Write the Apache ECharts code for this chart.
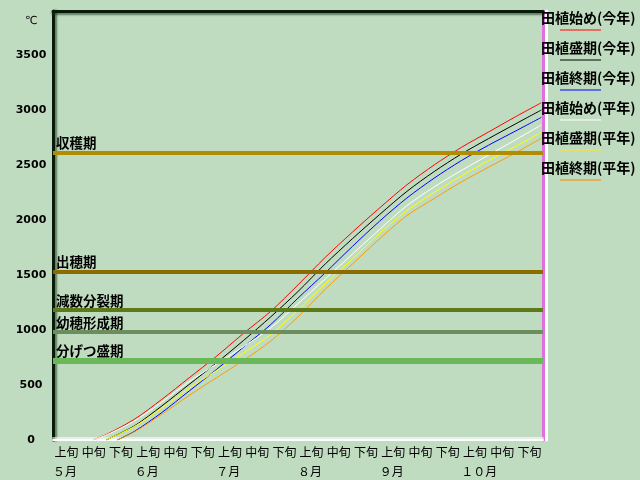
<!DOCTYPE html>
<html>
<head>
<meta charset="utf-8">
<script src="https://cdn.jsdelivr.net/npm/echarts@6/dist/echarts.min.js"></script>
<style>
  html, body { margin: 0; padding: 0; background: #c0dcc0; }
  #main { width: 640px; height: 480px; }
</style>
</head>
<body>
<div id="main"></div>
<script>
// x positions are in decades from May 1 (0 = 5月上旬 start, 18 = 10月下旬 end)
var decadeX = [2, 3, 4, 5, 6, 7, 8, 9, 10, 11, 12, 13, 14, 15, 16, 17, 17.94];

var seriesNames = ['田植始め(今年)', '田植盛期(今年)', '田植終期(今年)',
                   '田植始め(平年)', '田植盛期(平年)', '田植終期(平年)'];
var startX = [1.47, 1.95, 2.36, 1.47, 1.95, 2.36];

var startThisYear = [55, 190, 370, 565, 760, 970, 1170, 1410, 1660, 1890, 2110, 2320, 2500, 2660, 2800, 2940, 3066];
var midThisYear   = [5, 130, 310, 505, 700, 905, 1120, 1350, 1600, 1830, 2050, 2260, 2440, 2600, 2740, 2875, 3000];
var endThisYear   = [null, 80, 250, 445, 640, 845, 1050, 1290, 1520, 1760, 1990, 2200, 2380, 2540, 2680, 2810, 2933];
var startNormal   = [50, 175, 345, 530, 690, 850, 1020, 1240, 1465, 1690, 1915, 2130, 2300, 2450, 2590, 2730, 2864];
var midNormal     = [5, 125, 290, 470, 630, 790, 960, 1180, 1420, 1645, 1880, 2085, 2250, 2400, 2540, 2670, 2797];
var endNormal     = [null, 75, 235, 405, 565, 725, 900, 1120, 1370, 1600, 1830, 2040, 2195, 2345, 2480, 2612, 2743];
var seriesValues = [startThisYear, midThisYear, endThisYear, startNormal, midNormal, endNormal];

var lineColors   = ['#ff0000', '#000000', '#0000ff', '#ffffff', '#ffff00', '#ff9900'];
var legendColors = ['#e07060', '#607060', '#6070e0', '#e0ece0', '#e0e070', '#e0b060'];

// growth stages: accumulated temperature thresholds
var stageNames  = ['収穫期', '出穂期', '減数分裂期', '幼穂形成期', '分げつ盛期'];
var stageValues = [2610, 1530, 1180, 980, 720];
var stageColors = ['#b08c00', '#8b6c00', '#5c7a18', '#6c8e5c', '#6ab85a'];
var stageWidths = [4, 4, 4, 4, 6];

var decadeLabels = [];
for (var m = 0; m < 6; m++) {
  decadeLabels.push('上旬', '中旬', '下旬');
}
var monthLabels = ['５月', '６月', '７月', '８月', '９月', '１０月'];

var yTicks = [0, 500, 1000, 1500, 2000, 2500, 3000, 3500];

var FONT = 'Noto Sans CJK JP';

var chart = echarts.init(document.getElementById('main'));

var series = seriesNames.map(function (name, i) {
  var data = [[startX[i], 0]];
  decadeX.forEach(function (x, k) {
    if (seriesValues[i][k] != null && x > startX[i]) data.push([x, seriesValues[i][k]]);
  });
  return {
    name: name,
    type: 'line',
    xAxisIndex: 0,
    yAxisIndex: 0,
    data: data,
    symbol: 'none',
    smooth: 0.3,
    color: lineColors[i],
    lineStyle: { color: lineColors[i], width: 1 },
    z: 3
  };
});

series.push({
  name: 'stages',
  type: 'line',
  data: [],
  xAxisIndex: 0,
  yAxisIndex: 0,
  z: 4,
  markLine: {
    silent: true,
    symbol: ['none', 'none'],
    animation: false,
    data: stageNames.map(function (n, i) {
      return {
        yAxis: stageValues[i],
        name: n,
        lineStyle: { color: stageColors[i], width: stageWidths[i], type: 'solid' },
        label: {
          show: true,
          formatter: n,
          position: 'insideStartTop',
          distance: [3, 3],
          color: '#000',
          fontSize: 13.5,
          fontWeight: 'bold',
          fontFamily: FONT
        }
      };
    })
  }
});

var rich = {
  t: { fontSize: 14, fontWeight: 'bold', color: '#000', fontFamily: FONT, lineHeight: 16 },
  s: { width: 19, height: 2, lineHeight: 8 }
};
legendColors.forEach(function (c, i) {
  rich['c' + i] = { width: 41, height: 2, lineHeight: 8, backgroundColor: c };
});

var option = {
  backgroundColor: '#c0dcc0',
  animation: false,
  textStyle: { fontFamily: FONT },
  grid: { left: 53, right: 97, top: 11, bottom: 40, containLabel: false },
  legend: {
    data: seriesNames,
    orient: 'vertical',
    left: 536,
    top: 11,
    itemGap: 5,
    itemWidth: 0,
    itemHeight: 0,
    icon: 'none',
    selectedMode: false,
    padding: 0,
    formatter: function (name) {
      var i = seriesNames.indexOf(name);
      return '{t|' + name + '}\n{s|}{c' + i + '|}';
    },
    textStyle: { rich: rich }
  },
  graphic: [{
    type: 'text',
    left: 25,
    top: 16,
    style: { text: '℃', fontSize: 11, fill: '#000', fontFamily: 'DejaVu Sans' }
  }],
  xAxis: [{
    type: 'value',
    min: 0,
    max: 18,
    position: 'bottom',
    axisLine: { show: true, onZero: false, lineStyle: { color: '#ffffff', width: 2, shadowColor: 'rgba(255,255,255,0.6)', shadowOffsetY: -2 } },
    axisTick: { show: false },
    axisLabel: { show: false },
    splitLine: { show: false }
  }, {
    type: 'category',
    data: decadeLabels,
    position: 'bottom',
    boundaryGap: true,
    axisLine: { show: false, onZero: false },
    axisTick: { show: false },
    splitLine: { show: false },
    axisLabel: { interval: 0, margin: 6, fontSize: 12, color: '#000', fontFamily: FONT }
  }, {
    type: 'value',
    min: 0,
    max: 18,
    interval: 3,
    position: 'bottom',
    offset: 19,
    axisLine: { show: false, onZero: false },
    axisTick: { show: false },
    splitLine: { show: false },
    axisLabel: {
      showMaxLabel: false,
      align: 'left',
      margin: 6,
      fontSize: 12,
      color: '#000',
      fontFamily: FONT,
      formatter: function (v) { return monthLabels[v / 3] || ''; }
    }
  }, {
    type: 'value',
    min: 0,
    max: 18,
    position: 'top',
    axisLine: { show: true, onZero: false, lineStyle: { color: '#0a1a0a', width: 3, shadowColor: 'rgba(20,60,20,0.6)', shadowBlur: 2, shadowOffsetY: 2 } },
    axisTick: { show: false },
    axisLabel: { show: false },
    splitLine: { show: false }
  }],
  yAxis: [{
    type: 'value',
    min: 0,
    max: 3900,
    interval: 500,
    position: 'left',
    axisLine: { show: true, onZero: false, lineStyle: { color: '#0a1a0a', width: 3, shadowColor: 'rgba(20,60,20,0.6)', shadowBlur: 2, shadowOffsetX: 2 } },
    axisTick: { show: false },
    splitLine: { show: false },
    axisLabel: {
      showMaxLabel: false,
      align: 'center',
      margin: 22,
      fontSize: 11,
      fontWeight: 'bold',
      color: '#000',
      fontFamily: 'DejaVu Sans',
      formatter: function (v) { return yTicks.indexOf(v) >= 0 ? String(v) : ''; }
    }
  }, {
    type: 'value',
    min: 0,
    max: 3900,
    position: 'right',
    axisLine: { show: true, onZero: false, lineStyle: { color: '#e070e0', width: 3, shadowColor: '#ffffff', shadowOffsetX: 3 } },
    axisTick: { show: false },
    axisLabel: { show: false },
    splitLine: { show: false }
  }],
  series: series
};

chart.setOption(option);
</script>
</body>
</html>
